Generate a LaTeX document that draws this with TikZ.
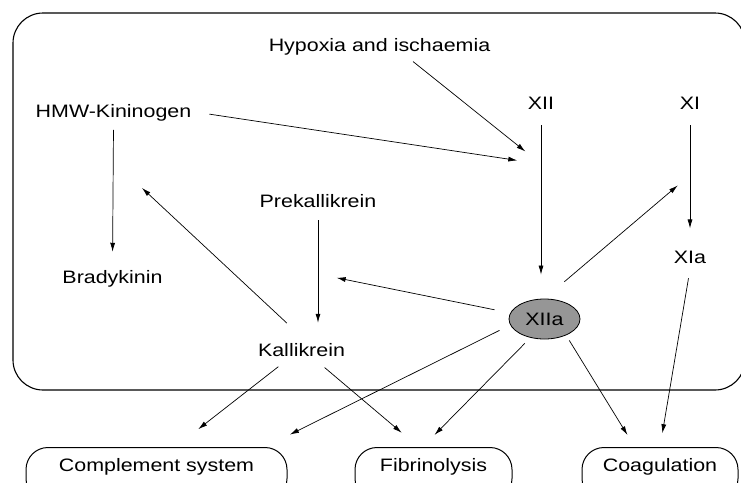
\documentclass[tikz,border=0pt]{standalone}
\usepackage{fontspec}
\setmainfont{Liberation Sans}[FakeStretch=1.19]
\usetikzlibrary{arrows.meta,positioning,shapes.geometric}
\definecolor{xiiagray}{HTML}{969696}

\begin{document}
\begin{tikzpicture}[
    x=1pt, y=-1pt,
    font=\fontsize{18}{21}\selectfont,
    factor/.style={anchor=base, inner sep=6pt},
    outcome/.style={
        draw,
        rounded corners=22pt,
        line width=1pt,
        anchor=north,
        inner ysep=11pt,
        text height=13pt,
        text depth=18pt
    },
    active/.style={
        ellipse,
        draw,
        fill=xiiagray,
        line width=0.8pt,
        minimum width=71pt,
        minimum height=40pt,
        inner sep=1pt
    },
    arrow/.style={-{Latex[length=9pt,width=5pt]}, line width=0.7pt}
]
    \useasboundingbox (0,0) rectangle (741,482);
    \clip (0,0) rectangle (741,482);

    % plasma compartment
    \draw[line width=1.1pt, rounded corners=30pt] (13,13) rectangle (745,390);

    \node[factor] (hypoxia) at (379.5,51) {Hypoxia and ischaemia};
    \node[factor] (hmw) at (113.5,117) {HMW-Kininogen};
    \node[factor] (xii) at (541,109) {XII};
    \node[factor] (xi) at (690,109) {XI};
    \node[factor] (prekal) at (318,207) {Prekallikrein};
    \node[factor] (brady) at (112.5,283) {Bradykinin};
    \node[factor] (xia) at (690,263) {XIa};
    \node[factor] (kal) at (301.5,356) {Kallikrein};
    \node[active] (xiia) at (544.5,319) {XIIa};

    % outcomes, cut by the lower edge
    \node[outcome, minimum width=261pt] (complement) at (156.5,447) {Complement system};
    \node[outcome, minimum width=157pt] (fibrin) at (433.5,447) {Fibrinolysis};
    \node[outcome, minimum width=156pt] (coag) at (660,447) {Coagulation};

    % points on the conversion lines
    \coordinate (xiiact) at (541,164);
    \coordinate (bkact) at (112,160);
    \coordinate (kalact) at (318,274);
    \coordinate (xiact) at (690,175);

    \draw[arrow, shorten <=1pt, shorten >=20pt] (hypoxia.336) -- (xiiact);
    \draw[arrow, shorten <=12pt, shorten >=24pt] (hmw.east) -- (xiiact);
    \draw[arrow, shorten <=10pt, shorten >=24pt] (xii.south) -- (xii.south |- xiia.north);
    \draw[arrow, shorten <=10pt, shorten >=16pt] (xi.south) -- (xia.north);
    \draw[arrow, shorten <=3pt, shorten >=12pt] (hmw.south) -- (brady.north);
    \draw[arrow, shorten <=7pt, shorten >=14pt] (prekal.south) -- (prekal.south |- kal.north);
    \draw[arrow, shorten <=20pt, shorten >=41pt] (kal.north) -- (bkact);
    \draw[arrow, shorten <=16pt, shorten >=19pt] (xiia.170) -- (kalact);
    \draw[arrow, shorten <=26pt, shorten >=16pt] (xiia.north) -- (xiact);

    \draw[arrow, shorten <=7pt, shorten >=29pt] (kal.216) -- (complement.55);
    \draw[arrow, shorten <=8pt, shorten >=22pt] (kal.323) -- (fibrin.119);
    \draw[arrow, shorten <=12pt, shorten >=28pt] (xiia.190) -- (complement.14);
    \draw[arrow, shorten <=8pt, shorten >=17pt] (xiia.233) -- (fibrin.112);
    \draw[arrow, shorten <=6pt, shorten >=14pt] (xiia.323) -- (coag.133);
    \draw[arrow, shorten <=9pt, shorten >=14pt] (xia.south) -- (coag.north);
\end{tikzpicture}
\end{document}
